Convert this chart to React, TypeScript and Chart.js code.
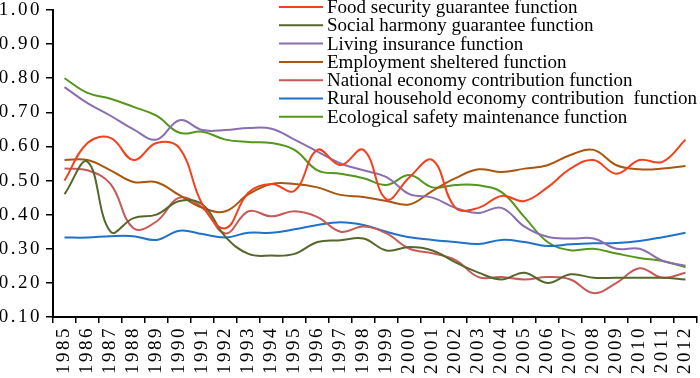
import React, { useEffect, useRef } from "react";
import { Chart, registerables } from "chart.js";

Chart.register(...registerables);

const years = [
  "1985", "1986", "1987", "1988", "1989", "1990", "1991", "1992", "1993", "1994",
  "1995", "1996", "1997", "1998", "1999", "2000", "2001", "2002", "2003", "2004",
  "2005", "2006", "2007", "2008", "2009", "2010", "2011", "2012",
];

const foodSecurity = [0.50, 0.61, 0.625, 0.56, 0.61, 0.595, 0.43, 0.36, 0.465, 0.49, 0.47, 0.59, 0.545, 0.59, 0.445, 0.51, 0.56, 0.42, 0.42, 0.455, 0.44, 0.48, 0.535, 0.56, 0.52, 0.56, 0.555, 0.62];
const socialHarmony = [0.46, 0.555, 0.35, 0.39, 0.40, 0.44, 0.43, 0.335, 0.285, 0.28, 0.285, 0.32, 0.325, 0.33, 0.295, 0.305, 0.295, 0.26, 0.23, 0.21, 0.23, 0.20, 0.225, 0.215, 0.215, 0.215, 0.215, 0.21];
const livingInsurance = [0.774, 0.727, 0.69, 0.65, 0.62, 0.677, 0.648, 0.648, 0.654, 0.652, 0.62, 0.585, 0.55, 0.53, 0.51, 0.46, 0.45, 0.42, 0.405, 0.42, 0.365, 0.335, 0.33, 0.33, 0.30, 0.30, 0.265, 0.25];
const employmentSheltered = [0.56, 0.56, 0.53, 0.496, 0.495, 0.457, 0.42, 0.41, 0.46, 0.49, 0.49, 0.48, 0.458, 0.452, 0.44, 0.43, 0.47, 0.507, 0.533, 0.525, 0.535, 0.545, 0.575, 0.59, 0.545, 0.533, 0.535, 0.543];
const nationalEconomy = [0.535, 0.53, 0.49, 0.36, 0.38, 0.45, 0.42, 0.345, 0.41, 0.395, 0.41, 0.393, 0.35, 0.365, 0.345, 0.30, 0.287, 0.267, 0.217, 0.217, 0.21, 0.217, 0.21, 0.17, 0.20, 0.243, 0.215, 0.23];
const ruralHousehold = [0.333, 0.333, 0.337, 0.337, 0.326, 0.353, 0.343, 0.333, 0.347, 0.347, 0.357, 0.37, 0.378, 0.37, 0.35, 0.334, 0.326, 0.32, 0.314, 0.326, 0.32, 0.308, 0.313, 0.316, 0.317, 0.323, 0.334, 0.347];
const ecologicalSafety = [0.80, 0.757, 0.74, 0.716, 0.69, 0.64, 0.643, 0.62, 0.613, 0.61, 0.59, 0.53, 0.52, 0.507, 0.487, 0.516, 0.48, 0.487, 0.486, 0.466, 0.393, 0.32, 0.296, 0.30, 0.286, 0.273, 0.264, 0.246];

const seriesNames = [
  "Food security guarantee function",
  "Social harmony guarantee function",
  "Living insurance function",
  "Employment sheltered function",
  "National economy contribution function",
  "Rural household economy contribution  function",
  "Ecological safety maintenance function",
];
const seriesValues = [foodSecurity, socialHarmony, livingInsurance, employmentSheltered, nationalEconomy, ruralHousehold, ecologicalSafety];
const seriesColors = ["#f4401c", "#56672c", "#8a6eb0", "#a9560f", "#c65a58", "#1f72c8", "#55961c"];

const yMin = 0.1;
const yMax = 1.0;
const yStep = 0.1;

const FONT = '"Liberation Serif", "Times New Roman", serif';

export default function App() {
  const canvasRef = useRef<HTMLCanvasElement>(null);

  useEffect(() => {
    const canvas = canvasRef.current;
    if (!canvas) return;

    const spacingPlugin = {
      id: "tickSpacing",
      beforeDraw(chart: any) {
        chart.ctx.letterSpacing = "2.5px";
      },
    };

    const legendPlugin = {
      id: "customLegend",
      afterDraw(chart: any) {
        const c = chart.ctx;
        c.save();
        c.letterSpacing = "0px";
        c.font = `19px ${FONT}`;
        c.textBaseline = "middle";
        c.textAlign = "left";
        chart.data.datasets.forEach((ds: any, i: number) => {
          const y = 7 + i * 18.3;
          c.strokeStyle = ds.borderColor;
          c.lineWidth = 2;
          c.beginPath();
          c.moveTo(279, y);
          c.lineTo(323, y);
          c.stroke();
          c.fillStyle = "#000";
          c.fillText(ds.label, 327, y + 1);
        });
        c.restore();
      },
    };

    const chart = new Chart(canvas, {
      type: "line",
      data: {
        labels: years,
        datasets: seriesValues.map((vals, i) => ({
          label: seriesNames[i],
          data: vals,
          borderColor: seriesColors[i],
          backgroundColor: seriesColors[i],
          borderWidth: 2,
          pointRadius: 0,
          tension: 0.4,
          fill: false,
        })),
      },
      options: {
        responsive: false,
        animation: false,
        layout: { padding: { left: 0, top: 10, right: 3, bottom: 0 } },
        plugins: {
          legend: { display: false },
          tooltip: { enabled: false },
        },
        scales: {
          x: {
            type: "category",
            offset: true,
            grid: {
              offset: true,
              drawOnChartArea: false,
              drawTicks: true,
              tickLength: 6,
              color: "#000",
              lineWidth: 1.5,
            },
            border: { display: true, color: "#000", width: 2 },
            ticks: {
              autoSkip: false,
              maxRotation: 90,
              minRotation: 90,
              padding: 3,
              color: "#000",
              font: { family: FONT, size: 19 },
            },
            afterFit(scale: any) {
              scale.height = 61;
              scale.paddingLeft = 0;
              scale.paddingRight = 0;
            },
          },
          y: {
            min: yMin,
            max: yMax,
            grid: {
              drawOnChartArea: false,
              drawTicks: true,
              tickLength: 7,
              color: "#000",
              lineWidth: 1.5,
            },
            border: { display: true, color: "#000", width: 2 },
            ticks: {
              stepSize: yStep,
              padding: 4,
              color: "#000",
              font: { family: FONT, size: 19 },
              callback: (v: any) => Number(v).toFixed(2),
            },
            afterFit(scale: any) {
              scale.width = 53;
              scale.paddingTop = 0;
              scale.paddingBottom = 0;
            },
          },
        },
      },
      plugins: [spacingPlugin, legendPlugin],
    } as any);

    return () => chart.destroy();
  }, []);

  return (
    <div style={{ position: "fixed", left: 0, top: 0, width: 700, height: 378, background: "#fff" }}>
      <canvas ref={canvasRef} width={700} height={378} style={{ display: "block" }} />
    </div>
  );
}
